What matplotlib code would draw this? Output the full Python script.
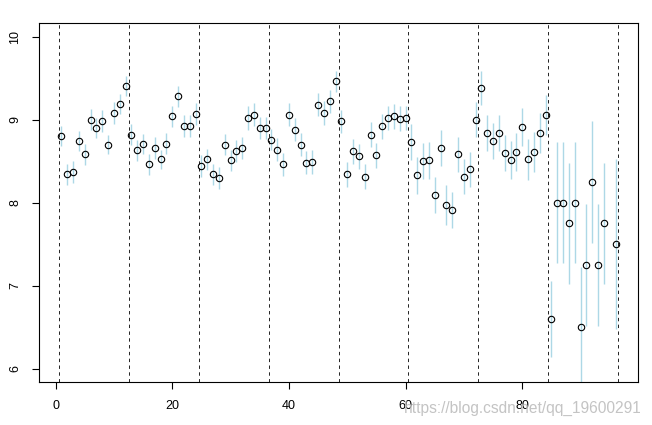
import numpy as np
import matplotlib
matplotlib.use("Agg")
import matplotlib.pyplot as plt

plt.rcParams['font.family'] = ['Liberation Sans', 'DejaVu Sans']

# monthly means (x = 1..96), month 95 missing
means = [8.80, 8.34, 8.37, 8.74, 8.58, 9.00, 8.90, 8.98, 8.70, 9.08, 9.19, 9.40,
         8.82, 8.63, 8.71, 8.46, 8.66, 8.52, 8.71, 9.04, 9.28, 8.92, 8.92, 9.07,
         8.44, 8.52, 8.34, 8.30, 8.70, 8.51, 8.62, 8.66, 9.02, 9.06, 8.90, 8.90,
         8.76, 8.64, 8.46, 9.06, 8.88, 8.70, 8.48, 8.49, 9.18, 9.08, 9.22, 9.46,
         8.98, 8.34, 8.62, 8.56, 8.31, 8.82, 8.57, 8.92, 9.02, 9.04, 9.01, 9.02,
         8.73, 8.33, 8.50, 8.51, 8.09, 8.66, 7.97, 7.91, 8.58, 8.31, 8.40, 9.00,
         9.38, 8.84, 8.74, 8.84, 8.60, 8.51, 8.61, 8.91, 8.52, 8.61, 8.84, 9.06,
         6.60, 8.00, 8.00, 7.75, 8.00, 6.50, 7.25, 8.25, 7.25, 7.75, np.nan, 7.50]

# half-width of the error bars
errs = [0.12, 0.13, 0.13, 0.12, 0.13, 0.13, 0.12, 0.13, 0.12, 0.13, 0.12, 0.12,
        0.13, 0.13, 0.12, 0.13, 0.13, 0.12, 0.13, 0.13, 0.13, 0.13, 0.13, 0.13,
        0.13, 0.13, 0.13, 0.13, 0.13, 0.13, 0.13, 0.13, 0.14, 0.14, 0.13, 0.13,
        0.13, 0.14, 0.14, 0.14, 0.14, 0.14, 0.14, 0.14, 0.14, 0.14, 0.14, 0.13,
        0.14, 0.15, 0.15, 0.15, 0.15, 0.15, 0.15, 0.15, 0.15, 0.15, 0.15, 0.15,
        0.22, 0.22, 0.22, 0.22, 0.22, 0.22, 0.24, 0.22, 0.21, 0.21, 0.21, 0.21,
        0.20, 0.22, 0.22, 0.22, 0.22, 0.23, 0.23, 0.23, 0.25, 0.24, 0.24, 0.24,
        0.46, 0.73, 0.73, 0.73, 0.73, 0.73, 0.73, 0.73, 0.73, 0.73, np.nan, 1.02]

months = np.arange(1, len(means) + 1)
year_breaks = [0.5, 12.5, 24.5, 36.5, 48.5, 60.5, 72.5, 84.5, 96.5]
x_ticks = [0, 20, 40, 60, 80]
y_ticks = [6, 7, 8, 9, 10]

W, H = 652, 425
fig = plt.figure(figsize=(W / 100, H / 100), dpi=100)
ax = fig.add_axes([39.3 / W, (H - 382) / H, 598.4 / W, (382 - 23.3) / H])

m = np.array(means)
e = np.array(errs)
ax.vlines(months, m - e, m + e, color='lightblue', lw=1.0, zorder=1)
ax.plot(months, m, 'o', mfc='none', mec='black', ms=4.6, mew=0.8, zorder=3)

for b in year_breaks:
    ax.axvline(b, color='#222222', ls=(0, (3.5, 3.5)), lw=0.7, zorder=2)

ax.set_xlim(-2.8, 99.8)
ax.set_ylim(5.84, 10.16)
ax.set_xticks(x_ticks)
ax.set_yticks(y_ticks)
ax.tick_params(direction='out', length=5, width=0.8, labelsize=9, pad=8)
for lab in ax.get_yticklabels():
    lab.set_rotation(90)
    lab.set_va('center')
for s in ax.spines.values():
    s.set_linewidth(0.8)

# csdn watermark, bottom right
fig.text(0.984, 0.04, "https://blog.csdn.net/qq_19600291", ha='right', va='center',
         fontsize=11.2, color='#c4c4c4')

fig.savefig("out.png", dpi=100)
